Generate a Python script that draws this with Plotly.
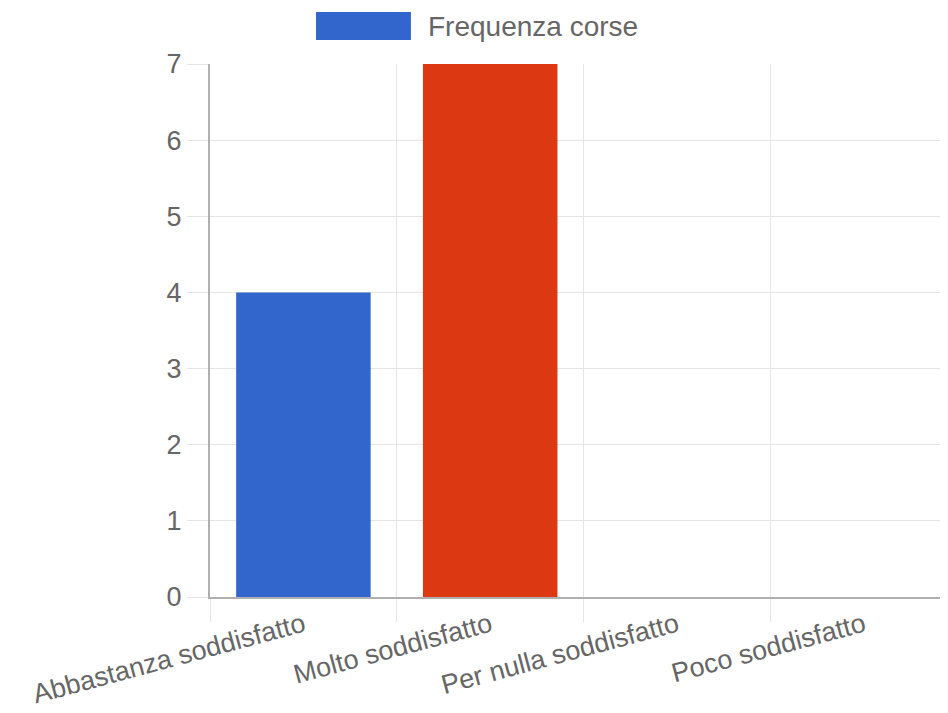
import plotly.graph_objects as go

# Frequenza corse per livello di soddisfazione
categories = ["Abbastanza soddisfatto", "Molto soddisfatto", "Per nulla soddisfatto", "Poco soddisfatto"]
values = [4, 7, 0, 0]
bar_colors = ["#3366CC", "#DC3912", "#FF9900", "#109618"]
series_name = "Frequenza corse"

font_family = "Liberation Sans, Arial, sans-serif"
grid_color = "#e5e5e5"
axis_color = "#b0b0b0"
text_color = "#666666"

fig = go.Figure(
    go.Bar(
        x=categories,
        y=values,
        name=series_name,
        marker=dict(color=bar_colors, line=dict(width=0)),
        showlegend=False,
    )
)

# legend drawn by hand: wide colour box + label, like the original chart
fig.add_shape(
    type="rect", xref="paper", yref="paper",
    x0=0.144, x1=0.273, y0=1.045, y1=1.0976,
    fillcolor=bar_colors[0], line=dict(width=0),
)
fig.add_annotation(
    text=series_name, xref="paper", yref="paper",
    x=0.294, y=1.071, xanchor="left", yanchor="middle",
    showarrow=False, font=dict(size=28, color=text_color, family=font_family),
)

# the page body adds an 8px offset, so margins are trimmed to match
fig.update_layout(
    width=948,
    height=713,
    margin=dict(l=202, r=10, t=56, b=124),
    plot_bgcolor="white",
    paper_bgcolor="white",
    bargap=0.28,
    font=dict(family=font_family, size=27, color=text_color),
    xaxis=dict(
        type="category",
        range=[-0.5, 3.44],
        tickson="boundaries",
        showgrid=True,
        gridcolor=grid_color,
        ticks="outside",
        ticklen=23,
        tickcolor=grid_color,
        tickangle=-15,
        showline=True,
        linecolor=axis_color,
        linewidth=2,
        zeroline=False,
    ),
    yaxis=dict(
        range=[0, 7],
        dtick=1,
        showgrid=True,
        gridcolor=grid_color,
        ticks="outside",
        ticklen=21,
        tickcolor=grid_color,
        showline=True,
        linecolor=axis_color,
        linewidth=2,
        zeroline=False,
    ),
)

fig.write_html("out.html")
